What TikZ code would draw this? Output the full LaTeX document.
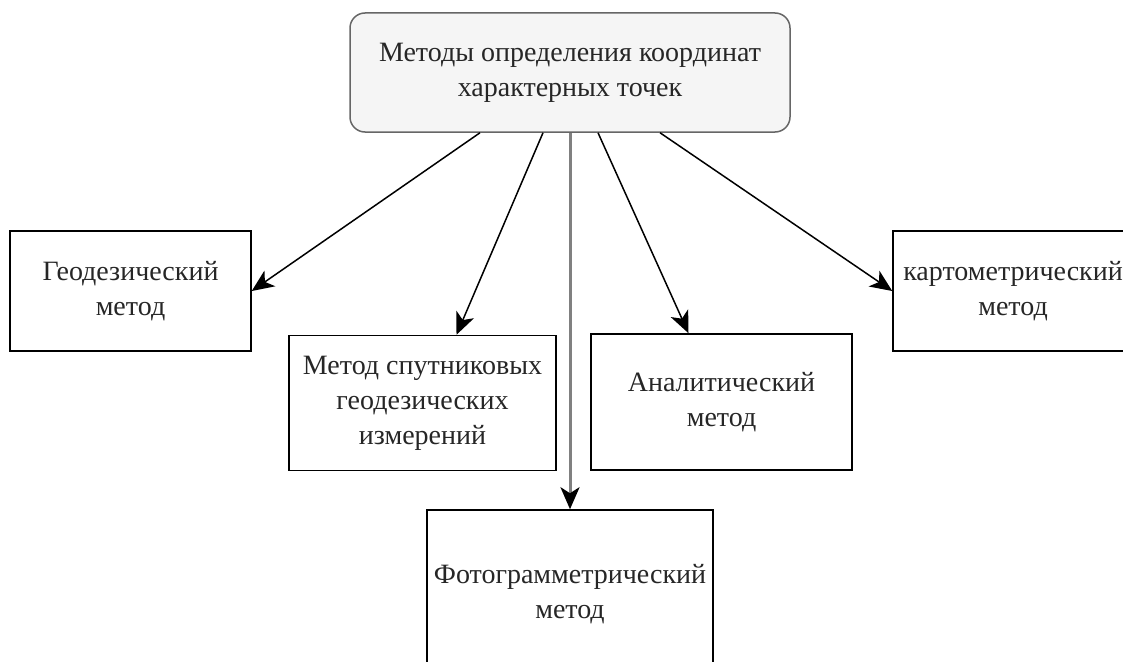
\documentclass[tikz,border=0pt]{standalone}
\usepackage{fontspec}
\setmainfont{Liberation Serif}
\usetikzlibrary{arrows.meta,calc}
\begin{document}
\begin{tikzpicture}[x=1pt,y=-1pt,
  box/.style={draw=black,line width=1.5pt,rectangle,align=center,inner sep=0pt,font=\fontsize{28}{35}\selectfont,text=black!85},
  topbox/.style={box,fill=black!4,rounded corners=15pt,draw=black!60},
  arr/.style={line width=1.5pt,-{Stealth[length=22pt,width=19pt,inset=6pt]}},
  garr/.style={line width=3pt,draw=black!50,-{Stealth[length=22pt,width=19pt,inset=6pt,color=black,fill=black]}}]
\useasboundingbox (0,0) rectangle (1123,661);
\clip (0,0) rectangle (1123,661);
\node[topbox,minimum width=440pt,minimum height=119pt] (top) at (570,72.5) {Методы определения координат\\характерных точек};
\node[box,minimum width=241pt,minimum height=120pt] (geo) at (130.5,291) {Геодезический\\метод};
\node[box,minimum width=267pt,minimum height=135pt] (sat) at (422.5,403) {Метод спутниковых\\геодезических\\измерений};
\node[box,minimum width=261pt,minimum height=136pt] (ana) at (721.5,402) {Аналитический\\метод};
\node[box,minimum width=240pt,minimum height=120pt] (cart) at (1013,291) {картометрический\\метод};
\node[box,minimum width=286pt,minimum height=168pt] (photo) at (570,594) {Фотограмметрический\\метод};
\draw[arr] ($(top.south)+(-90,0)$) -- (geo.east);
\draw[arr] ($(top.south)+(-27,0)$) -- ($(sat.north)+(34,0)$);
\draw[garr] (top.south) -- (photo.north);
\draw[arr] ($(top.south)+(28,0)$) -- ($(ana.north)+(-33,0)$);
\draw[arr] ($(top.south)+(90,0)$) -- (cart.west);
\end{tikzpicture}
\end{document}
